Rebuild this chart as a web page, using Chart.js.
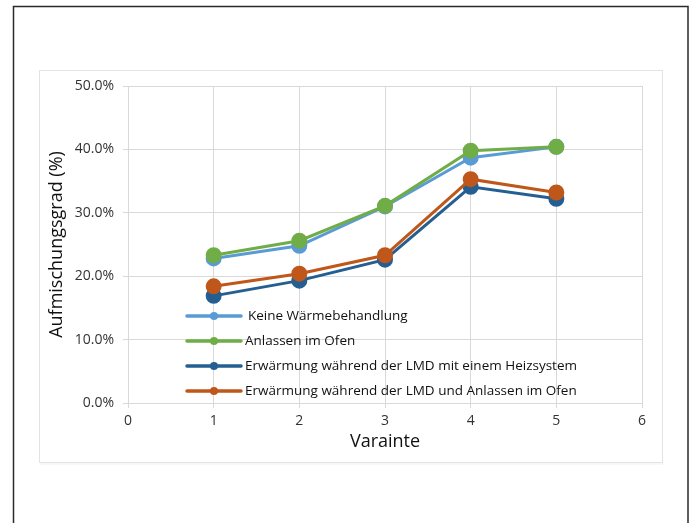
<!DOCTYPE html>
<html>
<head>
<meta charset="utf-8">
<script src="https://cdn.jsdelivr.net/npm/chart.js@4/dist/chart.umd.min.js"></script>
<style>
  html, body { margin: 0; padding: 0; background: #ffffff; }
  canvas { display: block; }
</style>
</head>
<body>
<canvas id="chart" width="694" height="523"></canvas>
<script>
// Variants on the x axis
const variants = [1, 2, 3, 4, 5];

// Series names
const seriesNames = [
  'Keine Wärmebehandlung',
  'Anlassen im Ofen',
  'Erwärmung während der LMD mit einem Heizsystem',
  'Erwärmung während der LMD und Anlassen im Ofen'
];

// Aufmischungsgrad in percent per variant
const keineWaermebehandlung = [22.8, 24.8, 31.0, 38.7, 40.4];
const anlassenImOfen        = [23.3, 25.6, 31.1, 39.8, 40.4];
const lmdHeizsystem         = [16.9, 19.3, 22.6, 34.1, 32.2];
const lmdAnlassenImOfen     = [18.4, 20.4, 23.3, 35.3, 33.2];

// Axis ranges
const xTickValues = [0, 1, 2, 3, 4, 5, 6];
const yTickValues = [0, 10, 20, 30, 40, 50];

const seriesValues = [keineWaermebehandlung, anlassenImOfen, lmdHeizsystem, lmdAnlassenImOfen];
const seriesColors = ['#5B9BD5', '#70AD47', '#255E91', '#C0571A'];

const FONT = "'Open Sans', 'DejaVu Sans', sans-serif";

// Frame and chart-area box painted behind the chart
const framePlugin = {
  id: 'frame',
  beforeDraw(chart) {
    const ctx = chart.ctx;
    ctx.save();
    ctx.fillStyle = '#ffffff';
    ctx.fillRect(0, 0, chart.width, chart.height);
    // outer dark frame
    ctx.strokeStyle = '#2b2b2b';
    ctx.lineWidth = 1.5;
    ctx.beginPath();
    ctx.moveTo(13.5, chart.height + 2);
    ctx.lineTo(13.5, 6.5);
    ctx.lineTo(688, 6.5);
    ctx.lineTo(688, chart.height + 2);
    ctx.stroke();
    // light chart box
    ctx.strokeStyle = '#e3e3e3';
    ctx.lineWidth = 1;
    ctx.strokeRect(39.5, 70.5, 623, 392);
    ctx.strokeStyle = '#efefef';
    ctx.beginPath();
    ctx.moveTo(40, 464);
    ctx.lineTo(663, 464);
    ctx.stroke();
    ctx.restore();
  }
};

// Legend drawn inside the plot, one row per series
const insideLegendPlugin = {
  id: 'insideLegend',
  afterDraw(chart) {
    const ctx = chart.ctx;
    const x0 = 187, x1 = 241, rowY = [316, 341, 366, 391];
    ctx.save();
    ctx.font = '13.5px ' + FONT;
    ctx.textBaseline = 'middle';
    ctx.textAlign = 'left';
    chart.data.datasets.forEach((ds, i) => {
      const y = rowY[i];
      ctx.strokeStyle = ds.borderColor;
      ctx.lineWidth = 3.5;
      ctx.lineCap = 'round';
      ctx.beginPath();
      ctx.moveTo(x0, y);
      ctx.lineTo(x1, y);
      ctx.stroke();
      ctx.fillStyle = ds.borderColor;
      ctx.beginPath();
      ctx.arc((x0 + x1) / 2, y, 4, 0, Math.PI * 2);
      ctx.fill();
      ctx.fillStyle = '#111111';
      ctx.fillText(ds.label, i === 0 ? 248 : 245, y);
    });
    ctx.restore();
  }
};

const datasets = seriesNames.map((name, i) => ({
  label: name,
  data: variants.map((v, j) => ({ x: v, y: seriesValues[i][j] })),
  borderColor: seriesColors[i],
  backgroundColor: seriesColors[i],
  pointBackgroundColor: seriesColors[i],
  pointBorderColor: seriesColors[i],
  borderWidth: 3,
  pointRadius: 6.5,
  pointHoverRadius: 6.5,
  tension: 0,
  fill: false,
  order: seriesNames.length - i
}));

new Chart(document.getElementById('chart'), {
  type: 'line',
  data: { datasets },
  options: {
    responsive: false,
    animation: false,
    layout: { padding: { left: 40, right: 52, top: 86, bottom: 70 } },
    plugins: {
      legend: { display: false },
      tooltip: { enabled: false },
      title: { display: false }
    },
    scales: {
      x: {
        type: 'linear',
        min: xTickValues[0],
        max: xTickValues[xTickValues.length - 1],
        afterFit(scale) { scale.height = 50; },
        afterBuildTicks(scale) { scale.ticks = xTickValues.map(v => ({ value: v })); },
        ticks: {
          padding: 5,
          color: '#333333',
          font: { family: FONT, size: 14 },
          callback: v => String(v)
        },
        grid: { color: '#d9d9d9', lineWidth: 1, tickLength: 5, drawTicks: true },
        border: { color: '#d9d9d9' },
        title: {
          display: true,
          text: 'Varainte',
          color: '#111111',
          font: { family: FONT, size: 18 },
          padding: { top: 0, bottom: 0 }
        }
      },
      y: {
        min: yTickValues[0],
        max: yTickValues[yTickValues.length - 1],
        afterFit(scale) { scale.width = 88; },
        afterBuildTicks(scale) { scale.ticks = yTickValues.map(v => ({ value: v })); },
        ticks: {
          padding: 9,
          color: '#333333',
          font: { family: FONT, size: 14 },
          callback: v => v.toFixed(1) + '%'
        },
        grid: { color: '#d9d9d9', lineWidth: 1, tickLength: 5, drawTicks: true },
        border: { color: '#d9d9d9' },
        title: {
          display: true,
          text: 'Aufmischungsgrad (%)',
          color: '#111111',
          font: { family: FONT, size: 18 },
          padding: { top: 6, bottom: 0 }
        }
      }
    }
  },
  plugins: [framePlugin, insideLegendPlugin]
});
</script>
</body>
</html>
